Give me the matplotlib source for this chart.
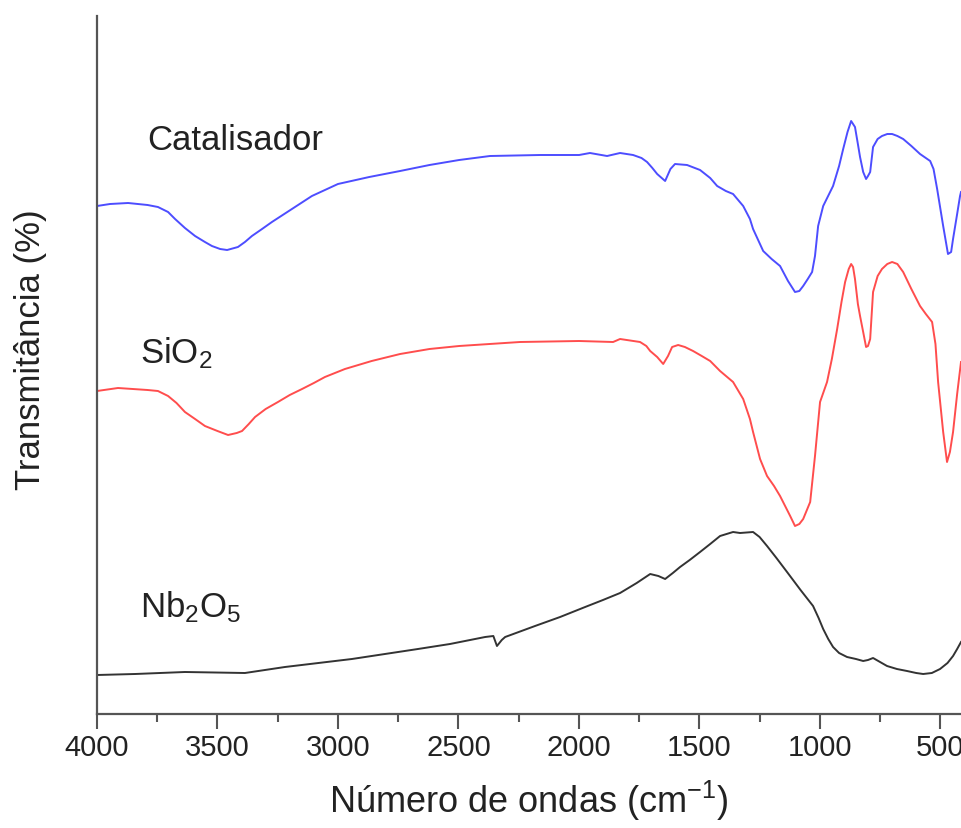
import matplotlib.pyplot as plt

plt.rcParams['font.family'] = ['Liberation Sans', 'DejaVu Sans']
plt.rcParams['mathtext.fontset'] = 'custom'
plt.rcParams['mathtext.rm'] = 'Liberation Sans'
plt.rcParams['mathtext.it'] = 'Liberation Sans'

# FTIR spectra (arbitrary transmittance units)
cat_wn = [4000, 4000, 3946, 3871, 3790, 3747, 3705, 3676, 3635, 3593, 3552, 3523, 3489,
          3460, 3415, 3386, 3357, 3315, 3274, 3191, 3108, 3054, 3000, 2870, 2742, 2620,
          2497, 2369, 2161, 1999, 1954, 1883, 1829, 1775, 1740, 1717, 1695, 1675, 1642,
          1620, 1601, 1551, 1497, 1455, 1426, 1390, 1360, 1318, 1290, 1277, 1235, 1200,
          1165, 1132, 1103, 1085, 1069, 1050, 1032, 1020, 1007, 986, 945, 920, 903, 885,
          870, 862, 854, 842, 833, 820, 808, 800, 791, 779, 760, 742, 720, 700, 678, 654,
          620, 584, 542, 528, 513, 488, 468, 455, 447, 430, 418, 414]
cat_t = [385, 508, 510, 511, 509, 507, 502, 495, 486, 478, 472, 468, 465,
         464, 467, 472, 478, 485, 492, 505, 518, 524, 530, 537, 543, 549,
         554, 558, 559, 559, 561, 558, 561, 559, 556, 552, 546, 540, 533,
         545, 550, 549, 544, 536, 528, 523, 520, 508, 495, 485, 463, 455,
         448, 433, 422, 423, 428, 435, 442, 458, 488, 508, 528, 548, 565, 582,
         593, 590, 587, 570, 557, 542, 535, 538, 542, 567, 575, 578, 580, 580, 578, 575,
         568, 560, 553, 545, 525, 488, 460, 462, 475, 500, 518, 522]

sio2_wn = [4000, 4000, 3913, 3790, 3747, 3705, 3670, 3635, 3593, 3552, 3500, 3456, 3420,
           3398, 3370, 3344, 3300, 3249, 3200, 3149, 3100, 3054, 2971, 2860, 2742, 2620,
           2497, 2244, 1999, 1858, 1829, 1746, 1720, 1704, 1675, 1650, 1630, 1613, 1588,
           1560, 1526, 1490, 1455, 1414, 1360, 1318, 1290, 1277, 1248, 1219, 1190, 1165,
           1123, 1103, 1085, 1069, 1040, 1020, 999, 970, 950, 928, 910, 895, 880, 870,
           862, 854, 842, 833, 820, 808, 800, 791, 779, 760, 742, 720, 700, 678, 654, 620,
           584, 560, 534, 520, 509, 488, 472, 460, 447, 430, 414]
sio2_t = [155, 323, 326, 324, 323, 318, 311, 302, 295, 288, 283, 279, 281,
          283, 290, 297, 305, 312, 319, 325, 331, 337, 345, 353, 360, 365,
          368, 372, 373, 372, 375, 372, 368, 363, 357, 350, 358, 367, 369,
          367, 363, 358, 353, 343, 332, 315, 295, 282, 255, 238, 228, 218,
          198, 188, 190, 195, 212, 258, 312, 332, 355, 385, 412, 432, 445, 450,
          447, 435, 410, 398, 382, 367, 368, 375, 422, 438, 445, 450, 452, 450, 442, 425,
          408, 400, 392, 370, 332, 282, 252, 262, 282, 320, 352]

nb_wn = [4000, 3842, 3635, 3386, 3220, 2942, 2668, 2535, 2389, 2355, 2340, 2320, 2306,
         2182, 2078, 1974, 1900, 1829, 1760, 1704, 1670, 1642, 1610, 1580, 1540, 1497,
         1455, 1414, 1360, 1331, 1277, 1250, 1219, 1180, 1136, 1080, 1028, 1005, 986,
         965, 945, 920, 887, 850, 820, 800, 779, 750, 721, 680, 638, 600, 571, 535, 501,
         470, 447, 430, 414]
nb_t = [39, 40, 42, 41, 47, 55, 65, 70, 77, 78, 68, 74, 77,
        88, 97, 107, 114, 121, 131, 140, 138, 135, 141, 147, 154, 162,
        170, 178, 182, 181, 182, 177, 168, 156, 142, 124, 108, 96, 85,
        75, 67, 61, 57, 55, 53, 54, 56, 52, 48, 45, 43, 41, 40, 41, 45,
        51, 58, 65, 72]

labels = ['Catalisador', 'SiO$_2$', 'Nb$_2$O$_5$']
label_wn = [3790, 3822, 3822]
label_t = [575, 362, 108]

fig = plt.figure(figsize=(9.61, 8.29), dpi=100)
ax = fig.add_axes([97 / 961, 1 - 715 / 829, 1 - 97 / 961, 698 / 829])

ax.plot(cat_wn, cat_t, color='#4d4dff', lw=1.4)
ax.plot(sio2_wn, sio2_t, color='#ff4d4d', lw=1.4)
ax.plot(nb_wn, nb_t, color='#333333', lw=1.4)

for s, x, y in zip(labels, label_wn, label_t):
    ax.text(x, y, s, fontsize=25, color='#222222', ha='left', va='center')

ax.set_xlim(4000, 414)
ax.set_ylim(0, 698)
ax.set_xticks([4000, 3500, 3000, 2500, 2000, 1500, 1000, 500])
ax.set_xticks(range(3750, 400, -500), minor=True)
ax.set_yticks([])

for side in ['top', 'right']:
    ax.spines[side].set_visible(False)
for side in ['left', 'bottom']:
    ax.spines[side].set_color('#555555')
    ax.spines[side].set_linewidth(1.6)

ax.tick_params(axis='x', which='major', length=11, width=1.5, color='#555555',
               labelsize=21, labelcolor='#222222', pad=3)
ax.tick_params(axis='x', which='minor', length=6, width=1.5, color='#555555')

ax.set_xlabel('Número de ondas (cm$^{-1}$)', fontsize=26, color='#222222', labelpad=12)
ax.set_ylabel('Transmitância (%)', fontsize=25, color='#222222')
ax.yaxis.set_label_coords(-0.058, 0.523)

fig.savefig('out.png', dpi=100)
